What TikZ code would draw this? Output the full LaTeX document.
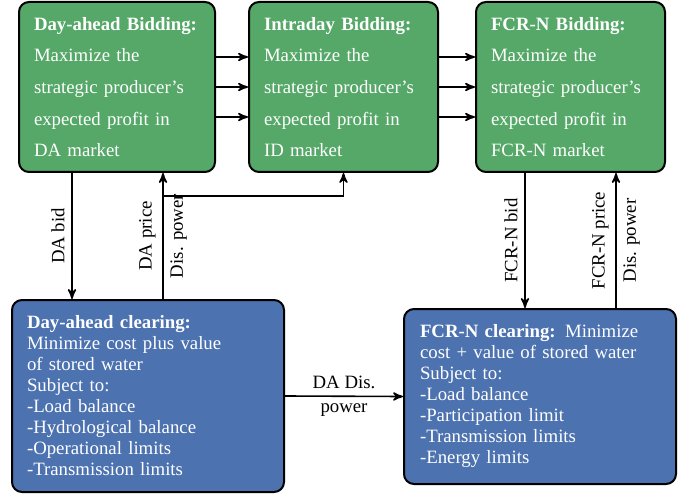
\documentclass[tikz,border=0pt]{standalone}
\usepackage{fontspec}
\setmainfont{Liberation Serif}
\usepackage{tikz}
\usetikzlibrary{arrows}
\definecolor{bidgreen}{HTML}{55A868}
\definecolor{clearblue}{HTML}{4C72B0}

\begin{document}
\begin{tikzpicture}[x=0.5pt, y=-0.5pt, >=stealth', thick, font=\fontsize{9.4}{10.5}\selectfont,
	box/.style={draw=black, line width=1pt, rounded corners=5pt, text=white, align=left, inner xsep=7.5pt, inner ysep=0pt},
	bidbox/.style={box, fill=bidgreen, minimum height=85pt, font=\fontsize{9.4}{15.8}\selectfont},
	clearbox/.style={box, fill=clearblue},
	lab/.style={midway, rotate=90}]
	\useasboundingbox (0, 0) rectangle (694, 496);

	\node[bidbox, text width=83pt] (b1) at (117, 87) {\textbf{Day-ahead Bidding:}\\ Maximize the\\ strategic producer's\\ expected profit in\\ DA market};
	\node[bidbox, text width=79.5pt] (b2) at (343.5, 87) {\textbf{Intraday Bidding:}\\ Maximize the\\ strategic producer's\\ expected profit in\\ ID market};
	\node[bidbox, text width=79.5pt] (b3) at (570.5, 87) {\textbf{FCR-N Bidding:}\\ Maximize the\\ strategic producer's\\ expected profit in\\ FCR-N market};

	\node[clearbox, text width=121pt, minimum height=96pt] (c1) at (148, 396) {\textbf{Day-ahead clearing:}\\ Minimize cost plus value\\ of stored water\\ Subject to:\\ -Load balance\\ -Hydrological balance\\ -Operational limits\\ -Transmission limits};
	\node[clearbox, text width=120pt, minimum height=87.5pt, inner xsep=8pt] (c2) at (540, 396.5) {\textbf{FCR-N clearing:} Minimize\\ cost + value of stored water\\ Subject to:\\ -Load balance\\ -Participation limit\\ -Transmission limits\\ -Energy limits};

	\coordinate (fork) at (163, 196);

	\path[->] ([yshift=15pt]b1.east) edge ([yshift=15pt]b2.west)
		(b1.east) edge (b2.west)
		([yshift=-15pt]b1.east) edge ([yshift=-15pt]b2.west)
		([yshift=15pt]b2.east) edge ([yshift=15pt]b3.west)
		(b2.east) edge (b3.west)
		([yshift=-15pt]b2.east) edge ([yshift=-15pt]b3.west)
		([xshift=-22.5pt]b1.south) edge node[lab, anchor=south] {DA bid} ([xshift=-22.5pt]b1.south |- c1.north)
		([xshift=7.5pt]c1.north) edge node[lab, anchor=south] {DA price} node[lab, anchor=north] {Dis. power} ([xshift=7.5pt]c1.north |- b1.south)
		([xshift=-22.75pt]b3.south) edge node[lab, anchor=south] {FCR-N bid} ([xshift=-22.75pt]b3.south |- c2.north)
		([xshift=22.75pt]b3.south |- c2.north) edge node[lab, anchor=south] {FCR-N price} node[lab, anchor=north] {Dis. power} ([xshift=22.75pt]b3.south)
		(c1.east) edge node[above] {DA Dis.} node[below] {power} (c2.west);
	\draw[->] (fork) -| (b2.south);
\end{tikzpicture}
\end{document}
